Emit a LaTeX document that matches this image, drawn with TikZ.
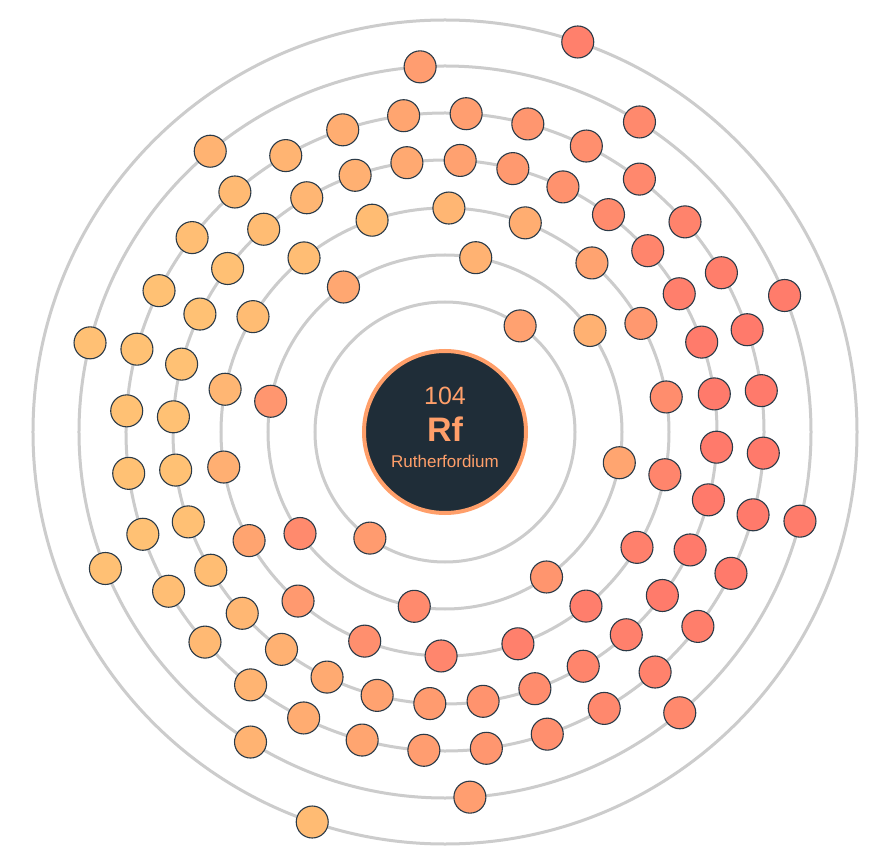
\documentclass[tikz,border=0pt]{standalone}
\usepackage{fontspec}
\setmainfont{Liberation Sans}
\definecolor{eY}{HTML}{FFC174}
\definecolor{eR}{HTML}{FF7A6B}
\definecolor{shellgray}{HTML}{CCCCCC}
\definecolor{nuc}{HTML}{1F2D38}
\definecolor{nucring}{HTML}{FF9F6A}
\definecolor{edge}{HTML}{2B3A47}
\tikzset{
  shellring/.style={draw=shellgray,line width=3pt},
  electron/.style={circle,draw=edge,line width=1.1pt,minimum size=32pt,inner sep=0pt},
  nucleusbox/.style={circle,fill=nuc,draw=nucring,line width=4pt,minimum size=162pt,inner sep=0pt},
  nuctext/.style={text=nucring,anchor=base,inner sep=0pt}
}
\begin{document}
\begin{tikzpicture}[x=1pt,y=1pt]
\useasboundingbox (-445,-424) rectangle (432,432);
\fill[white] (-445,-424) rectangle (432,432);
\foreach \r in {130,177,224,272,319,366,412} {
  \draw[shellring] (0,0) circle[radius=\r];
}
\node[nucleusbox] (nucleus) at (0,0) {};
\node[nuctext,font=\fontsize{25}{25}\selectfont] (num) at (0,27) {104};
\node[nuctext,font=\fontsize{34}{34}\selectfont\bfseries] (sym) at (0,-9.7) {Rf};
\node[nuctext,font=\fontsize{17}{17}\selectfont] (name) at (0,-35.7) {Rutherfordium};
\foreach \r/\n/\a/\d/\g [count=\s] in {130/2/54.7/-40/0.5,177/8/80/-120/0.3,224/18/89/-50/0.45,272/32/86.8/-8/0.55,319/32/86.2/-4/0.55,366/10/93.9/4/0.5,412/2/71.2/38/0.5} {
  \pgfmathtruncatemacro\nn{\n-1}
  \foreach \k in {0,...,\nn} {
    \pgfmathsetmacro\ang{\a-\k*360/\n}
    \pgfmathsetmacro\px{\r*cos(\ang)}
    \pgfmathsetmacro\py{\r*sin(\ang)}
    \pgfmathtruncatemacro\pc{max(0,min(100,100*(0.5+\g*cos(\ang-\d))))}
    \node[electron,fill=eR!\pc!eY] (e\s-\k) at (\px,\py) {};
  }
}
\end{tikzpicture}
\end{document}
